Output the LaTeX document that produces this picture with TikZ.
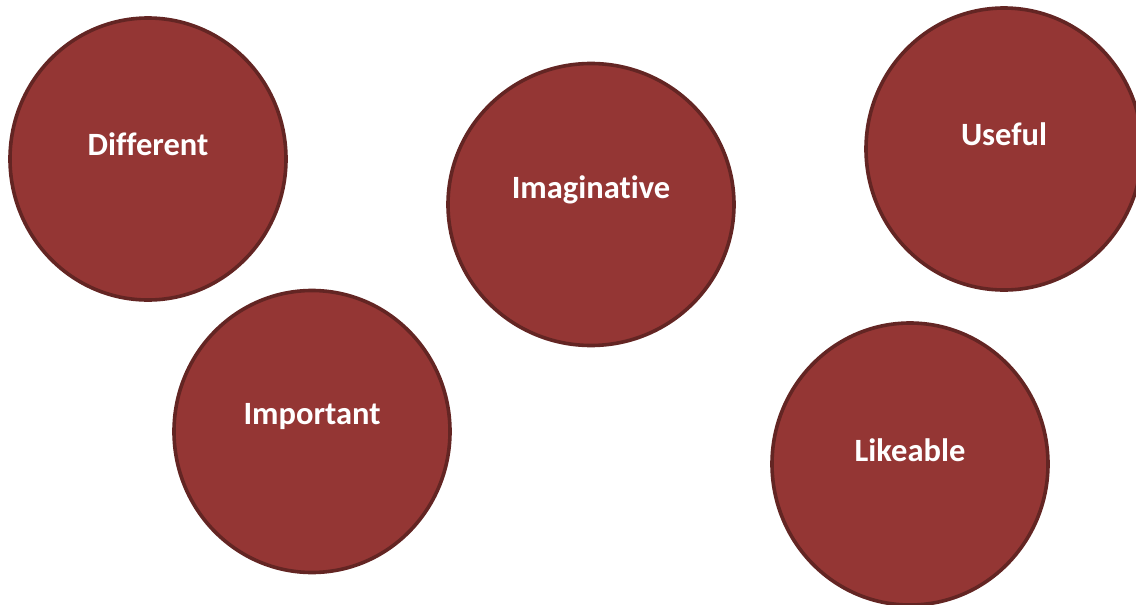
\documentclass[tikz,border=0pt]{standalone}
\usepackage{fontspec}
\setmainfont[Ligatures=NoCommon]{Carlito}
\usetikzlibrary{shapes.geometric}
\definecolor{bubfill}{HTML}{943634}
\definecolor{bubline}{HTML}{632523}
\tikzset{
  bubble/.style={ellipse, draw=bubline, fill=bubfill, line width=3.6pt, inner sep=0pt,
    minimum width=276pt, minimum height=282pt},
  bubtext/.style={text=white, font=\fontsize{32.5}{37}\selectfont\bfseries, inner sep=0pt, anchor=center}
}
\begin{document}
\begin{tikzpicture}[x=1pt,y=-1pt]
\useasboundingbox (0,0) rectangle (1136,605);
\node[bubble] (different) at (148,159) {};
\node[bubble, minimum width=286pt] (imaginative) at (591,204.5) {};
\node[bubble] (useful) at (1004,149) {};
\node[bubble] (important) at (312,431.5) {};
\node[bubble] (likeable) at (910,464) {};
\node[bubtext] (tdifferent) at (148,144.5) {Different};
\node[bubtext] (timaginative) at (591,189.5) {Imaginative};
\node[bubtext] (tuseful) at (1004,134.5) {Useful};
\node[bubtext] (timportant) at (312,416.5) {Important};
\node[bubtext] (tlikeable) at (910,450) {Likeable};
\end{tikzpicture}
\end{document}
